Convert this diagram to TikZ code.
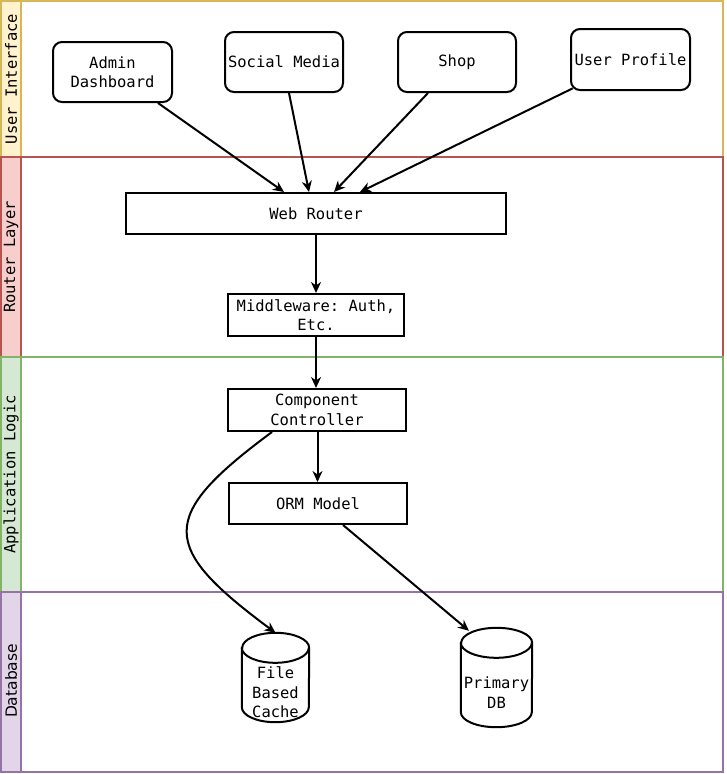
\documentclass[tikz,border=0pt]{standalone}
\usepackage{fontspec}
\setmainfont{DejaVu Sans}
\setsansfont{DejaVu Sans}
\setmonofont{DejaVu Sans Mono}
\usetikzlibrary{arrows.meta,calc}
\definecolor{uiF}{HTML}{FFF2CC}\definecolor{uiS}{HTML}{D6B656}
\definecolor{rlF}{HTML}{F8CECC}\definecolor{rlS}{HTML}{B85450}
\definecolor{alF}{HTML}{D5E8D4}\definecolor{alS}{HTML}{82B366}
\definecolor{dbF}{HTML}{E1D5E7}\definecolor{dbS}{HTML}{9673A6}
\newcommand\drawcyl[2]{%
  \draw[line width=2pt, fill=white] ([yshift=-15pt]#1.north west) -- ([yshift=15pt]#1.south west)
    arc[start angle=180,end angle=360,x radius=#2pt,y radius=15pt] -- ([yshift=-15pt]#1.north east)
    arc[start angle=0,end angle=180,x radius=#2pt,y radius=15pt] -- cycle;
  \draw[line width=2pt] ([yshift=-15pt]#1.north west) arc[start angle=180,end angle=360,x radius=#2pt,y radius=15pt];}
\begin{document}
\begin{tikzpicture}[x=1pt,y=-1pt,
  mono/.style={font=\ttfamily\fontsize{15.5}{19.5}\selectfont},
  box/.style={mono, draw, line width=2pt, inner sep=0pt, align=center, fill=white},
  rbox/.style={box, rounded corners=9pt},
  arr/.style={line width=2pt, -{Stealth[length=11pt,width=10pt,inset=3.5pt]}},
  lanelabel/.style={mono, rotate=90, inner sep=0pt},
  lanebox/.style={line width=2pt},
]
\useasboundingbox (0,0) rectangle (727,774);
\fill[white] (0,0) rectangle (727,774);
% lanes
\fill[uiF] (1,1) rectangle (21,157);
\draw[lanebox, uiS] (1,1) rectangle (723,157) (21,1) -- (21,157);
\fill[rlF] (1,157) rectangle (21,357);
\draw[lanebox, rlS] (1,157) rectangle (723,357) (21,157) -- (21,357);
\fill[alF] (1,357) rectangle (21,592);
\draw[lanebox, alS] (1,357) rectangle (723,592) (21,357) -- (21,592);
\fill[dbF] (1,592) rectangle (21,772);
\draw[lanebox, dbS] (1,592) rectangle (723,772) (21,592) -- (21,772);
\node[lanelabel] (lui) at (11,79) {User Interface};
\node[lanelabel] (lrl) at (11,257) {Router Layer};
\node[lanelabel] (lal) at (11,474.5) {Application Logic};
\node[lanelabel, font=\sffamily\fontsize{15.5}{18}\selectfont] (ldb) at (11,681) {Database};
% nodes
\node[rbox, minimum width=119pt, minimum height=60pt] (admin) at (112.5,72) {Admin\\Dashboard};
\node[rbox, minimum width=118pt, minimum height=60pt] (social) at (284,62) {Social Media};
\node[rbox, minimum width=118pt, minimum height=60pt] (shop) at (457,62) {Shop};
\node[rbox, minimum width=119pt, minimum height=61pt] (profile) at (630.5,59.5) {User Profile};
\node[box, minimum width=380pt, minimum height=41pt] (router) at (316,213.5) {Web Router};
\node[box, minimum width=176pt, minimum height=42pt] (mw) at (316,315) {Middleware: Auth,\\Etc.};
\node[box, minimum width=178pt, minimum height=42pt] (cc) at (317,410) {Component\\Controller};
\node[box, minimum width=178pt, minimum height=41pt] (orm) at (318,503.5) {ORM Model};
\node[inner sep=0pt, minimum width=67pt, minimum height=89pt] (cache) at (275.5,677.5) {};
\node[inner sep=0pt, minimum width=71pt, minimum height=99pt] (pdb) at (496.5,677.5) {};
\drawcyl{cache}{33.5}
\drawcyl{pdb}{35.5}
\node[mono, align=center, inner sep=0pt] (cachetxt) at ([yshift=-15pt]cache.center) {File\\Based\\Cache};
\node[mono, align=center, inner sep=0pt] (pdbtxt) at ([yshift=-15pt]pdb.center) {Primary\\DB};
% connectors
\draw[arr] ([xshift=-15pt]admin.south east) -- ([xshift=159pt]router.north west);
\draw[arr] ([xshift=65pt]social.south west) -- ([xshift=184pt]router.north west);
\draw[arr] ([xshift=31pt]shop.south west) -- ([xshift=209pt]router.north west);
\draw[arr] ([xshift=2.6pt,yshift=2.6pt]profile.south west) -- ([xshift=235pt]router.north west);
\draw[arr] (router.south) -- (mw.north);
\draw[arr] (mw.south) -- (mw.south |- cc.north);
\draw[arr] ([xshift=0.5pt]cc.south) -- ([xshift=0.5pt]cc.south |- orm.north);
\draw[arr] ([xshift=-45pt]cc.south) .. controls (157,517) and (160,547) .. (cache.north);
\draw[arr] ([xshift=25pt]orm.south) -- ([xshift=-27.5pt,yshift=-3pt]pdb.north);
\end{tikzpicture}
\end{document}
